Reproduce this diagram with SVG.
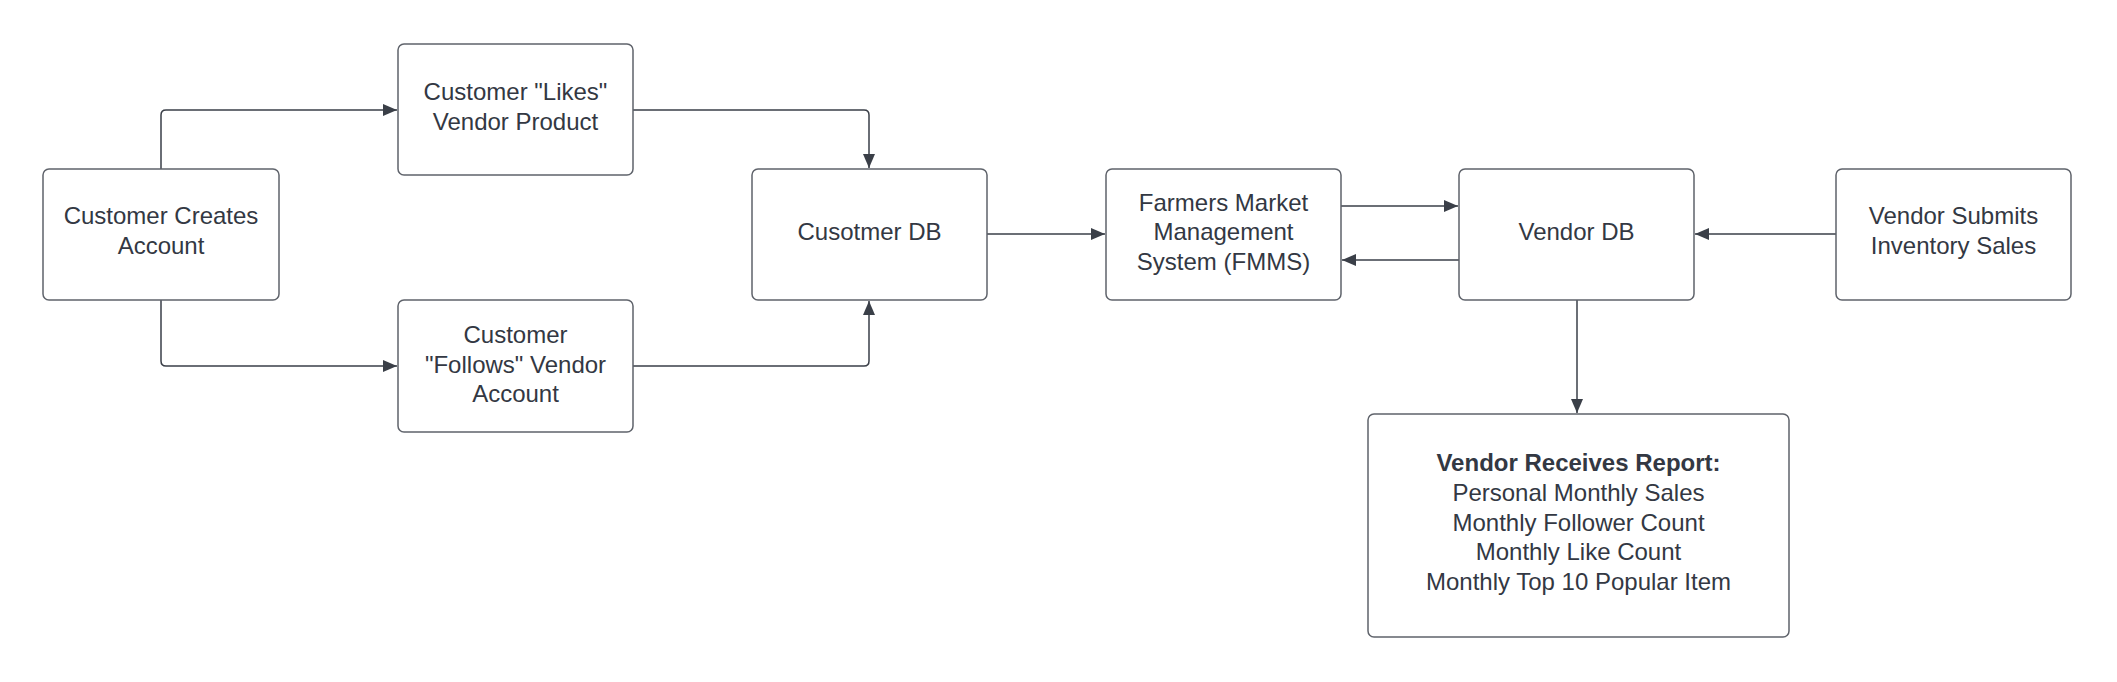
<svg xmlns="http://www.w3.org/2000/svg" width="2117" height="682" viewBox="0 0 2117 682">
<defs>
<style>
.box{fill:#ffffff;stroke:#5f636b;stroke-width:1.5}
.t{font-family:"Liberation Sans",Arial,sans-serif;font-size:24px;fill:#333843;text-anchor:middle}
.b{font-weight:bold}
.c{fill:none;stroke:#3a3f48;stroke-width:1.5}
</style>
<marker id="ah" viewBox="0 0 14 12" refX="14" refY="6" markerWidth="14" markerHeight="12" markerUnits="userSpaceOnUse" orient="auto">
<path d="M0,0 L14,6 L0,12 Z" fill="#3a3f48"/>
</marker>
</defs>
<rect width="2117" height="682" fill="#ffffff"/>
<g id="connectors">
<path class="c" d="M161,169 V115 Q161,110 166,110 H397" marker-end="url(#ah)"/>
<path class="c" d="M161,300 V361 Q161,366 166,366 H397" marker-end="url(#ah)"/>
<path class="c" d="M633,110 H864 Q869,110 869,115 V168" marker-end="url(#ah)"/>
<path class="c" d="M633,366 H864 Q869,366 869,361 V301" marker-end="url(#ah)"/>
<path class="c" d="M987,234 H1105" marker-end="url(#ah)"/>
<path class="c" d="M1341,206 H1458" marker-end="url(#ah)"/>
<path class="c" d="M1459,260 H1342" marker-end="url(#ah)"/>
<path class="c" d="M1836,234 H1695" marker-end="url(#ah)"/>
<path class="c" d="M1577,300 V413" marker-end="url(#ah)"/>
</g>
<g id="n1">
<rect class="box" x="43" y="169" width="236" height="131" rx="6"/>
<text class="t" x="161" y="224">Customer Creates</text>
<text class="t" x="161" y="254">Account</text>
</g>
<g id="n2">
<rect class="box" x="398" y="44" width="235" height="131" rx="6"/>
<text class="t" x="515.5" y="100">Customer "Likes"</text>
<text class="t" x="515.5" y="130">Vendor Product</text>
</g>
<g id="n3">
<rect class="box" x="398" y="300" width="235" height="132" rx="6"/>
<text class="t" x="515.5" y="343">Customer</text>
<text class="t" x="515.5" y="373">"Follows" Vendor</text>
<text class="t" x="515.5" y="402">Account</text>
</g>
<g id="n4">
<rect class="box" x="752" y="169" width="235" height="131" rx="6"/>
<text class="t" x="869.5" y="240">Cusotmer DB</text>
</g>
<g id="n5">
<rect class="box" x="1106" y="169" width="235" height="131" rx="6"/>
<text class="t" x="1223.5" y="211">Farmers Market</text>
<text class="t" x="1223.5" y="240">Management</text>
<text class="t" x="1223.5" y="270">System (FMMS)</text>
</g>
<g id="n6">
<rect class="box" x="1459" y="169" width="235" height="131" rx="6"/>
<text class="t" x="1576.5" y="240">Vendor DB</text>
</g>
<g id="n7">
<rect class="box" x="1836" y="169" width="235" height="131" rx="6"/>
<text class="t" x="1953.5" y="224">Vendor Submits</text>
<text class="t" x="1953.5" y="254">Inventory Sales</text>
</g>
<g id="n8">
<rect class="box" x="1368" y="414" width="421" height="223" rx="6"/>
<text class="t b" x="1578.5" y="471">Vendor Receives Report:</text>
<text class="t" x="1578.5" y="501">Personal Monthly Sales</text>
<text class="t" x="1578.5" y="531">Monthly Follower Count</text>
<text class="t" x="1578.5" y="560">Monthly Like Count</text>
<text class="t" x="1578.5" y="590">Monthly Top 10 Popular Item</text>
</g>
</svg>
